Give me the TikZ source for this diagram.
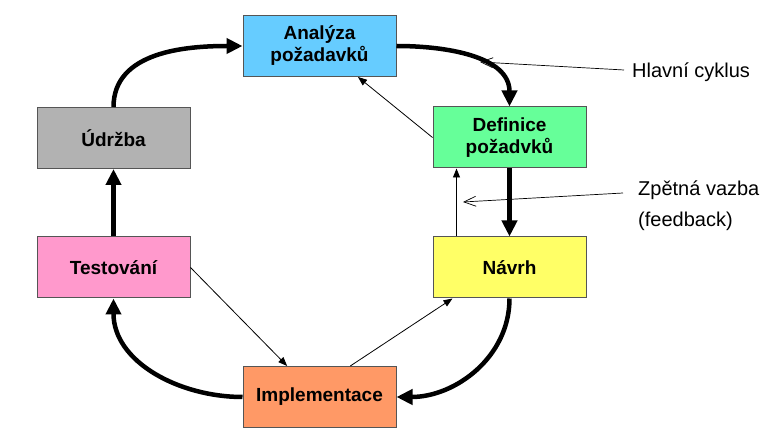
\documentclass[tikz,border=0pt]{standalone}
\usepackage{fontspec}
\setmainfont{Liberation Sans}
\usepackage{tikz}
\usetikzlibrary{arrows.meta,positioning,calc}
\definecolor{analyzaC}{HTML}{66CCFF}
\definecolor{udrzbaC}{HTML}{B2B2B2}
\definecolor{definiceC}{HTML}{66FF99}
\definecolor{navrhC}{HTML}{FFFF66}
\definecolor{testC}{HTML}{FF99CC}
\definecolor{implC}{HTML}{FF9966}
\definecolor{borderC}{HTML}{555555}

\begin{document}
\begin{tikzpicture}[x=1pt,y=-1pt,
  phase/.style={draw=borderC,line width=1pt,minimum width=153pt,minimum height=61pt,
    inner sep=0pt,align=center,font=\fontsize{19}{22}\selectfont\bfseries},
  mainarrow/.style={line width=4.5pt,-{Triangle[length=16pt,width=15pt]}},
  feedarrow/.style={line width=0.8pt,-{Triangle[length=9pt,width=7pt]}},
  pointer/.style={line width=0.7pt,-{Straight Barb[length=12pt,width=10pt]}},
  note/.style={anchor=west,inner sep=0pt,font=\fontsize{20}{24}\selectfont}]
  \useasboundingbox (0,0) rectangle (772,446);

  % Phases of the cycle
  \node[phase,fill=analyzaC]  (analyza)   at (319.5,46)  {Analýza\\požadavků};
  \node[phase,fill=definiceC] (definice)  at (509.5,137.5) {Definice\\požadvků};
  \node[phase,fill=navrhC]    (navrh)     at (509.5,267.5) {Návrh};
  \node[phase,fill=implC]     (impl)      at (319.5,397) {Implementace};
  \node[phase,fill=testC]     (testovani) at (113.5,267.5) {Testování};
  \node[phase,fill=udrzbaC]   (udrzba)    at (113.5,138) {Údržba};

  % Main cycle - thick arrows
  \draw[mainarrow] (udrzba.north) to[out=90,in=180] (analyza.west);
  \draw[mainarrow] (analyza.east) to[out=0,in=90] (definice.north);
  \draw[mainarrow] (definice.south) -- (navrh.north);
  \draw[mainarrow] (navrh.south) to[out=-90,in=0] (impl.east);
  \draw[mainarrow] (impl.west) to[out=180,in=-90] (testovani.south);
  \draw[mainarrow] (testovani.north) -- (udrzba.south);

  % Feedback - thin arrows
  \draw[feedarrow] (definice.west) -- ($(analyza.south)!0.5!(analyza.south east)$);
  \draw[feedarrow] ($(navrh.north west)+(24,0)$) -- ($(definice.south west)+(24,0)$);
  \draw[feedarrow] (testovani.east) -- ($(impl.north west)!0.29!(impl.north east)$);
  \draw[feedarrow] ($(impl.north west)!0.7!(impl.north east)$) -- ($(navrh.south west)+(20,0)$);

  % Labels
  \node[note] (hlavni) at (632,72) {Hlavní cyklus};
  \node[note] (zpetna) at (638,190) {Zpětná vazba};
  \node[note] (feedback) at (638,221) {(feedback)};
  \coordinate (hc) at (480,62);
  \coordinate (zv) at (463,202);
  \draw[pointer] ($(hlavni.west)+(-8,-2)$) -- (hc);
  \draw[pointer] ($(zpetna.west)+(-15,3)$) -- (zv);
\end{tikzpicture}
\end{document}
